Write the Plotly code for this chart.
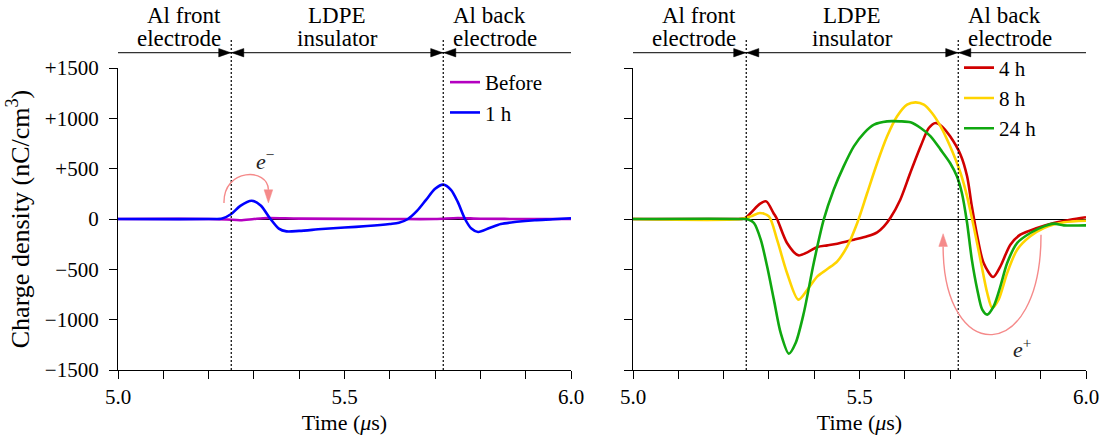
import plotly.graph_objects as go

# ---------------------------------------------------------------- data
# Time axis in microseconds, charge density in nC/cm^3

t_before = [5.00, 5.20, 5.24, 5.27, 5.30, 5.33, 5.40, 5.60, 5.70, 5.75, 5.80, 5.90, 6.00]
v_before = [0, 0, -5, -12, 0, 10, 4, 0, 0, 10, 3, 0, 0]

t_1h = [5.00, 5.20, 5.23, 5.25, 5.27, 5.295, 5.315, 5.335, 5.355, 5.372, 5.40, 5.45,
        5.50, 5.55, 5.60, 5.62, 5.64, 5.66, 5.68, 5.70, 5.718, 5.735, 5.75, 5.766,
        5.78, 5.795, 5.82, 5.845, 5.88, 5.92, 5.96, 6.00]
v_1h = [0, 0, 5, 50, 130, 182, 135, 10, -95, -123, -118, -100,
        -85, -70, -50, -38, 0, 80, 190, 300, 341, 290, 170, 0,
        -95, -129, -90, -50, -28, -12, -3, 8]

t_4h = [5.00, 5.22, 5.245, 5.26, 5.28, 5.294, 5.31, 5.318, 5.34, 5.365, 5.385, 5.407,
        5.429, 5.451, 5.4875, 5.517, 5.539, 5.554, 5.568, 5.59, 5.612, 5.635, 5.653,
        5.668, 5.682, 5.70, 5.723, 5.7375, 5.748, 5.76, 5.774, 5.795, 5.811, 5.833,
        5.855, 5.892, 5.929, 5.965, 6.00]
v_4h = [0, 0, 5, 60, 150, 175, 60, 0, -238, -361, -331, -278,
        -262, -245, -205, -172, -132, -73, 10, 192, 457, 722, 904,
        954, 920, 821, 639, 424, 126, -172, -437, -576, -470, -255,
        -156, -89, -40, -7, 17]

t_8h = [5.00, 5.2375, 5.26, 5.28, 5.30, 5.318, 5.34, 5.365, 5.385, 5.407, 5.429, 5.451,
        5.473, 5.495, 5.517, 5.539, 5.561, 5.583, 5.605, 5.624, 5.642, 5.66, 5.679,
        5.70, 5.723, 5.7375, 5.752, 5.767, 5.782, 5.793, 5.807, 5.826, 5.848, 5.877,
        5.907, 5.951, 6.00]
v_8h = [0, 0, 26, 60, 26, -205, -536, -801, -702, -570, -497, -420,
        -272, -40, 258, 556, 821, 1020, 1136, 1159, 1136, 1053, 920,
        722, 457, 225, -73, -404, -735, -884, -801, -536, -305, -172,
        -89, -33, -17]

t_24h = [5.00, 5.241, 5.256, 5.267, 5.282, 5.296, 5.311, 5.326, 5.344, 5.359, 5.377,
         5.399, 5.421, 5.443, 5.465, 5.4875, 5.51, 5.532, 5.561, 5.59, 5.6125, 5.635,
         5.657, 5.679, 5.70, 5.715, 5.726, 5.7375, 5.748, 5.76, 5.771, 5.782, 5.796,
         5.811, 5.826, 5.848, 5.877, 5.907, 5.929, 5.951, 6.00]
v_24h = [0, 0, -7, -40, -205, -470, -801, -1132, -1338, -1232, -934,
         -437, -7, 291, 523, 722, 854, 937, 970, 970, 960, 904,
         821, 689, 556, 424, 258, -40, -404, -702, -901, -950, -868,
         -669, -437, -238, -139, -73, -46, -63, -63]

# region boundaries (front electrode | insulator | back electrode)
boundaries = [5.25, 5.718]
region_lines = [("Al front", "electrode"), ("LDPE", "insulator"), ("Al back", "electrode")]

y_tickvals = [-1500, -1000, -500, 0, 500, 1000, 1500]
y_ticktext = ["\u22121500", "\u22121000", "\u2212500", "0", "+500", "+1000", "+1500"]

# ---------------------------------------------------------------- layout geometry
W, H = 1106, 439
FONT = "Liberation Serif"
FS = 21
plot_top, plot_bot = 68, 370
panels = [(118, 571), (633, 1086)]
arrow_y_px = 52.7


def paper_y(py):
    return 1 - py / H


colors = {
    "Before": "#b400c0",
    "1 h": "#0000ff",
    "4 h": "#d00000",
    "8 h": "#ffd400",
    "24 h": "#10a810",
}

fig = go.Figure()

series_left = [("Before", t_before, v_before), ("1 h", t_1h, v_1h)]
series_right = [("4 h", t_4h, v_4h), ("8 h", t_8h, v_8h), ("24 h", t_24h, v_24h)]

for name, t, v in series_left:
    fig.add_trace(go.Scatter(x=t, y=v, name=name, mode="lines",
                             line=dict(color=colors[name], width=2.6, shape="spline", smoothing=0.8),
                             xaxis="x", yaxis="y", legend="legend"))
for name, t, v in series_right:
    fig.add_trace(go.Scatter(x=t, y=v, name=name, mode="lines",
                             line=dict(color=colors[name], width=2.6, shape="spline", smoothing=0.8),
                             xaxis="x2", yaxis="y2", legend="legend2"))

axis_common = dict(
    showline=True, linecolor="black", linewidth=1.2,
    ticks="outside", ticklen=8, tickcolor="black", tickwidth=1.2,
    showgrid=False, automargin=False,
)
x_common = dict(range=[5.0, 6.0], tick0=5.0, dtick=0.5, tickformat=".1f", zeroline=False,
                minor=dict(dtick=0.1, ticks="outside", ticklen=8, tickcolor="black",
                           tickwidth=1.2, showgrid=False),
                title=dict(text="Time (<i>\u03bc</i>s)", standoff=6,
                           font=dict(family=FONT, size=22, color="black")))

ydom = [paper_y(plot_bot), paper_y(plot_top)]
layout = dict(
    width=W, height=H, autosize=False,
    margin=dict(l=0, r=0, t=0, b=0),
    paper_bgcolor="white", plot_bgcolor="white",
    font=dict(family=FONT, size=FS, color="black"),
    xaxis=dict(domain=[panels[0][0] / W, panels[0][1] / W], anchor="y", **x_common, **axis_common),
    xaxis2=dict(domain=[panels[1][0] / W, panels[1][1] / W], anchor="y2", **x_common, **axis_common),
    yaxis=dict(domain=ydom, range=[-1500, 1500], anchor="x",
               tickvals=y_tickvals, ticktext=y_ticktext, ticklabelstandoff=6,
               zeroline=True, zerolinecolor="black", zerolinewidth=1,
               title=dict(text="Charge density (nC/cm<sup>3</sup>)", standoff=7,
                          font=dict(family=FONT, size=26, color="black")), **axis_common),
    yaxis2=dict(domain=ydom, range=[-1500, 1500], anchor="x2",
                tickvals=y_tickvals, showticklabels=False,
                zeroline=True, zerolinecolor="black", zerolinewidth=1, **axis_common),
    legend=dict(x=445 / W, y=paper_y(62), xanchor="left", yanchor="top",
                bgcolor="rgba(0,0,0,0)", itemwidth=30),
    legend2=dict(x=959 / W, y=paper_y(47.5), xanchor="left", yanchor="top",
                 bgcolor="rgba(0,0,0,0)", itemwidth=30),
    showlegend=True,
)
fig.update_layout(**layout)

# ---------------------------------------------------------------- region markers above each panel
shapes = []
annotations = []
ya = paper_y(arrow_y_px)
head_len = 12 / 453.0          # arrowhead length in data units
head_half = 4.2 / H            # arrowhead half height in paper units
line_centers = [15.5, 38.5]    # vertical centres (px from top) of the two label rows
for (px0, px1), xr in zip(panels, ["x", "x2"]):
    # horizontal line spanning the time axis
    shapes.append(dict(type="line", xref=xr, yref="paper", x0=5.0, x1=6.0, y0=ya, y1=ya,
                       line=dict(color="#333333", width=1.3)))
    for b in boundaries:
        # dotted boundary line
        shapes.append(dict(type="line", xref=xr, yref="paper", x0=b, x1=b,
                           y0=paper_y(plot_bot), y1=paper_y(38),
                           line=dict(color="black", width=1.2, dash="2px,2px")))
        # arrowheads meeting at the boundary from both sides
        for sgn in (-1, 1):
            tip = b + sgn * 0.0012
            base = tip + sgn * head_len
            shapes.append(dict(type="path", xref=xr, yref="paper",
                               path=f"M {base},{ya + head_half} L {tip},{ya} L {base},{ya - head_half} Z",
                               fillcolor="black", line=dict(color="black", width=0.5)))
    label_pos = [(boundaries[0], "right", -8), ((boundaries[0] + boundaries[1]) / 2, "center", 0),
                 (boundaries[1], "left", 8)]
    for rows, (xpos, anchor, shift) in zip(region_lines, label_pos):
        for row, yc in zip(rows, line_centers):
            annotations.append(dict(text=row, xref=xr, yref="paper", x=xpos, y=paper_y(yc),
                                    xanchor=anchor, yanchor="middle", xshift=shift,
                                    showarrow=False, font=dict(family=FONT, size=23, color="black")))

# ---------------------------------------------------------------- carrier injection arrows
arrow_col = "#f58a8a"
# e- hopping across the front interface (left panel)
shapes.append(dict(type="path", xref="x", yref="y",
                   path="M 5.234,159 C 5.232,510 5.332,510 5.332,290",
                   line=dict(color=arrow_col, width=1.4)))
shapes.append(dict(type="path", xref="x", yref="y",
                   path="M 5.3225,290 L 5.3415,290 L 5.332,160 Z",
                   fillcolor=arrow_col, line=dict(color=arrow_col, width=0.5)))
annotations.append(dict(text="<i>e</i><sup>\u2212</sup>", xref="x", yref="y", x=5.3245, y=590,
                        showarrow=False, font=dict(family=FONT, size=22, color="#222222")))

# e+ loop near the back interface (right panel)
shapes.append(dict(type="path", xref="x2", yref="y2",
                   path="M 5.9007,-156 C 5.9007,-1460 5.6846,-1460 5.6846,-272",
                   line=dict(color=arrow_col, width=1.4)))
shapes.append(dict(type="path", xref="x2", yref="y2",
                   path="M 5.6751,-272 L 5.6941,-272 L 5.6846,-146 Z",
                   fillcolor=arrow_col, line=dict(color=arrow_col, width=0.5)))
annotations.append(dict(text="<i>e</i><sup>+</sup>", xref="x2", yref="y2", x=5.859, y=-1281,
                        showarrow=False, font=dict(family=FONT, size=22, color="#222222")))

fig.update_layout(shapes=shapes, annotations=annotations)

fig.write_html("out.html")
